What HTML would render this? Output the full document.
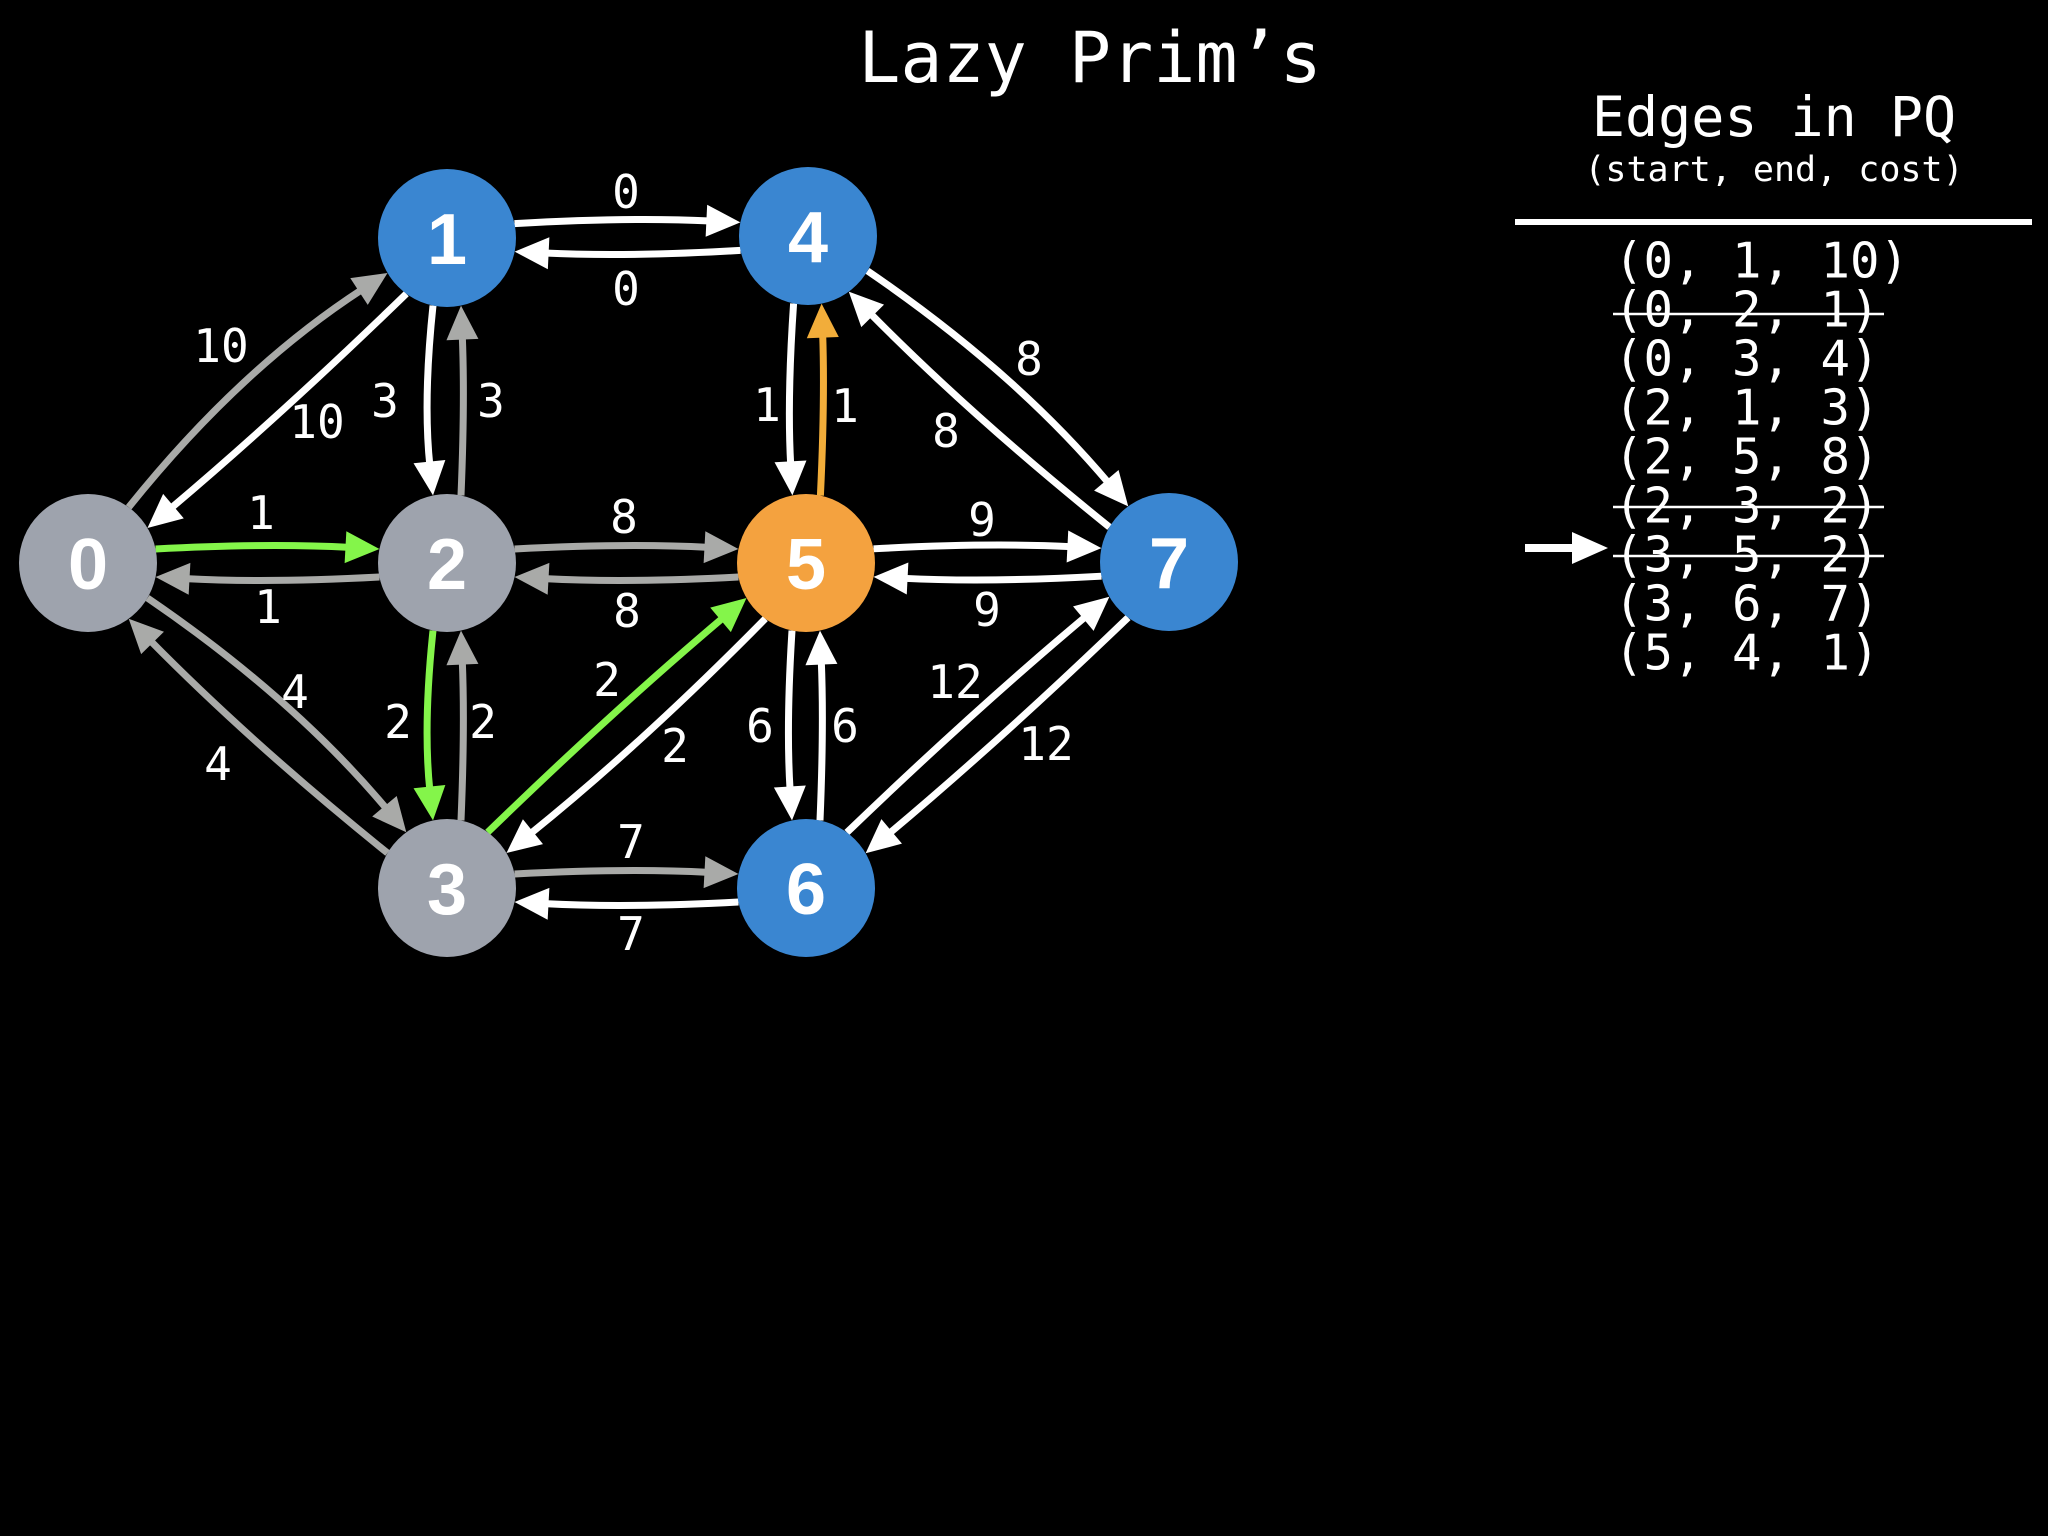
<!DOCTYPE html>
<html><head><meta charset="utf-8">
<style>
html,body{margin:0;padding:0;background:#000;}
svg{display:block;}
.m{font-family:"DejaVu Sans Mono","Liberation Mono",monospace;fill:#fff;}
.n{font-family:"Liberation Sans",sans-serif;font-weight:bold;fill:#fff;font-size:72px;}
</style></head>
<body>
<svg id="s" width="2048" height="1536" viewBox="0 0 2048 1536" xmlns="http://www.w3.org/2000/svg">
<rect width="2048" height="1536" fill="#000"/>
<g id="edges"></g>
<g id="nodes"></g>
<g class="m" font-size="46" text-anchor="middle" dominant-baseline="central">
<text x="221" y="346">10</text><text x="317" y="422">10</text>
<text x="626" y="192">0</text><text x="626" y="289">0</text>
<text x="385" y="401">3</text><text x="491" y="401">3</text>
<text x="261" y="513">1</text><text x="268" y="607">1</text>
<text x="624" y="517">8</text><text x="627" y="611">8</text>
<text x="767" y="405">1</text><text x="845" y="406">1</text>
<text x="1029" y="359">8</text><text x="946" y="431">8</text>
<text x="982" y="520">9</text><text x="987" y="610">9</text>
<text x="295" y="692">4</text><text x="218" y="764">4</text>
<text x="398" y="722">2</text><text x="483" y="722">2</text>
<text x="607" y="680">2</text><text x="675" y="746">2</text>
<text x="760" y="726">6</text><text x="845" y="726">6</text>
<text x="955" y="682">12</text><text x="1046" y="744">12</text>
<text x="631" y="842">7</text><text x="631" y="934">7</text>
</g>
<text class="m" x="1090" y="82" font-size="70" text-anchor="middle">Lazy Prim’s</text>
<text class="m" x="1774" y="136" font-size="55" text-anchor="middle">Edges in PQ</text>
<text class="m" x="1774" y="181" font-size="35" text-anchor="middle">(start, end, cost)</text>
<rect x="1515" y="219" width="517" height="6" fill="#fff"/>
<g class="m" font-size="49" dominant-baseline="central">
<text x="1614" y="261">(0, 1, 10)</text>
<text x="1614" y="310">(0, 2, 1)</text>
<text x="1614" y="359">(0, 3, 4)</text>
<text x="1614" y="408">(2, 1, 3)</text>
<text x="1614" y="457">(2, 5, 8)</text>
<text x="1614" y="506">(2, 3, 2)</text>
<text x="1614" y="555">(3, 5, 2)</text>
<text x="1614" y="604">(3, 6, 7)</text>
<text x="1614" y="653">(5, 4, 1)</text>
</g>
<g stroke="#fff" stroke-width="2.5">
<line x1="1613" y1="314" x2="1884" y2="314"/>
<line x1="1613" y1="507" x2="1884" y2="507"/>
<line x1="1613" y1="556" x2="1884" y2="556"/>
</g>
<rect x="1525" y="544" width="50" height="8" fill="#fff"/>
<polygon points="1572,532 1608,548 1572,564" fill="#fff"/>
</svg>
<script>
var N={0:[88,563,'#9ea3ad'],1:[447,238,'#3a86d1'],2:[447,563,'#9ea3ad'],3:[447,888,'#9ea3ad'],4:[808,236,'#3a86d1'],5:[806,563,'#f4a23f'],6:[806,888,'#3a86d1'],7:[1169,562,'#3a86d1']};
var G='#a9aaa8',W='#ffffff',GR='#84f54a',O='#f2ad3a';
var E=[[0,1,G,-1,14],[1,0,W,-1,3],[0,2,GR,-1,3],[2,0,G,-1,3],[0,3,G,-1,12],[3,0,G,-1,5],
[1,2,W,1,5],[2,1,G,1,2],[1,4,W,-1,3],[4,1,W,-1,3],[2,5,G,-1,3],[5,2,G,-1,3],
[2,3,GR,1,5],[3,2,G,1,2],[3,5,GR,-1,3],[5,3,W,-1,5],[3,6,G,-1,3],[6,3,W,-1,3],
[4,5,W,1,3],[5,4,O,1,2],[4,7,W,-1,12],[7,4,W,-1,5],[5,7,W,-1,3],[7,5,W,-1,3],
[5,6,W,1,3],[6,5,W,1,2],[6,7,W,-1,3],[7,6,W,-1,3]];
var R=69,o=14,ns='http://www.w3.org/2000/svg',eg=document.getElementById('edges'),ng=document.getElementById('nodes');
E.forEach(function(e){
var a=N[e[0]],b=N[e[1]],dx=b[0]-a[0],dy=b[1]-a[1],L=Math.hypot(dx,dy),ux=dx/L,uy=dy/L;
var px=-uy*e[3],py=ux*e[3];
var k=Math.sqrt(R*R-o*o);
var sx=a[0]+ux*k+px*o,sy=a[1]+uy*k+py*o,ex=b[0]-ux*k+px*o,ey=b[1]-uy*k+py*o;
var cx=(sx+ex)/2+px*e[4]*2,cy=(sy+ey)/2+py*e[4]*2;
var tx=ex-cx,ty=ey-cy,tl=Math.hypot(tx,ty);tx/=tl;ty/=tl;
var al=34,aw=16,bx=ex-tx*al,by=ey-ty*al;
var p=document.createElementNS(ns,'path');
p.setAttribute('d','M'+sx+','+sy+' Q'+cx+','+cy+' '+(ex-tx*(al-4))+','+(ey-ty*(al-4)));
p.setAttribute('stroke',e[2]);p.setAttribute('stroke-width','7');p.setAttribute('fill','none');
eg.appendChild(p);
var t=document.createElementNS(ns,'polygon');
t.setAttribute('points',ex+','+ey+' '+(bx-ty*aw)+','+(by+tx*aw)+' '+(bx+ty*aw)+','+(by-tx*aw));
t.setAttribute('fill',e[2]);eg.appendChild(t);
});
for(var i in N){var n=N[i];
var c=document.createElementNS(ns,'circle');c.setAttribute('cx',n[0]);c.setAttribute('cy',n[1]);c.setAttribute('r',R);c.setAttribute('fill',n[2]);ng.appendChild(c);
var tx=document.createElementNS(ns,'text');tx.setAttribute('x',n[0]);tx.setAttribute('y',n[1]+26);tx.setAttribute('text-anchor','middle');tx.setAttribute('class','n');tx.textContent=i;ng.appendChild(tx);}
</script>
</body></html>
